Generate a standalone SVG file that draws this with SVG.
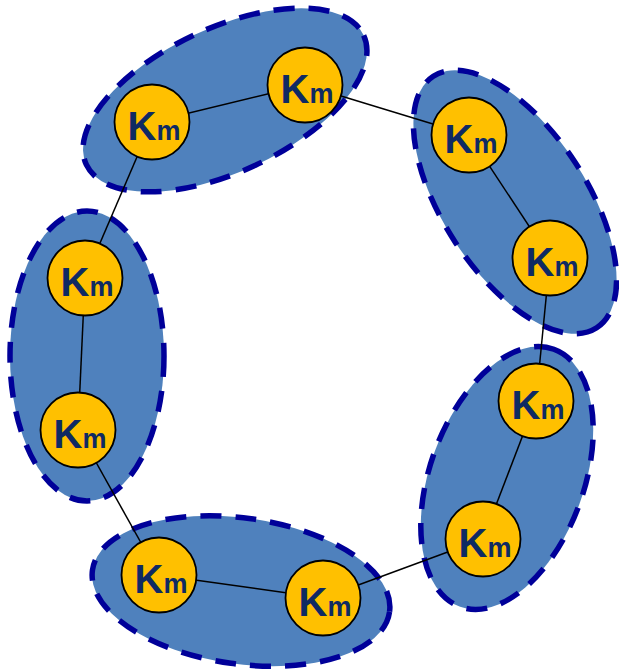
<svg xmlns="http://www.w3.org/2000/svg" width="619" height="671" viewBox="0 0 619 671">
<style>
.grp{fill:#4f81bd;stroke:#000099;stroke-width:5.5;stroke-dasharray:21 14}
.edge{stroke:#000;stroke-width:1.5;fill:none}
.node circle{fill:#ffc000;stroke:#000;stroke-width:1.8}
.node text{font-family:"Liberation Sans",Arial,sans-serif;font-weight:bold;fill:#0f2a63;text-anchor:middle}
.big{font-size:40px}
.sub{font-size:27px}
</style>
<rect width="619" height="671" fill="#fff"/>
<g id="clusters">
<ellipse id="cluster-top" class="grp" cx="225" cy="100" rx="153" ry="72" transform="rotate(-25 225 100)"/>
<ellipse id="cluster-right-top" class="grp" cx="515" cy="202" rx="150" ry="72" transform="rotate(57 515 202)"/>
<ellipse id="cluster-right-bottom" class="grp" cx="507" cy="478" rx="137" ry="77" transform="rotate(-70 507 478)"/>
<ellipse id="cluster-bottom" class="grp" cx="241" cy="591" rx="150" ry="73" transform="rotate(8 241 591)"/>
<ellipse id="cluster-left" class="grp" cx="87" cy="356" rx="77" ry="145"/>
</g>
<g id="connectors">
<line class="edge" x1="152" y1="122" x2="305" y2="85"/>
<line class="edge" x1="305" y1="85" x2="469" y2="135"/>
<line class="edge" x1="469" y1="135" x2="550" y2="258"/>
<line class="edge" x1="550" y1="258" x2="536" y2="401"/>
<line class="edge" x1="536" y1="401" x2="483" y2="539"/>
<line class="edge" x1="483" y1="539" x2="323" y2="598"/>
<line class="edge" x1="323" y1="598" x2="159" y2="575"/>
<line class="edge" x1="159" y1="575" x2="78" y2="430"/>
<line class="edge" x1="78" y1="430" x2="85" y2="278"/>
<line class="edge" x1="85" y1="278" x2="152" y2="122"/>
</g>
<g id="n1" class="node"><circle cx="152" cy="122" r="37.5"/><text x="154" y="140"><tspan class="big">K</tspan><tspan class="sub">m</tspan></text></g>
<g id="n2" class="node"><circle cx="305" cy="85" r="37.5"/><text x="307" y="103"><tspan class="big">K</tspan><tspan class="sub">m</tspan></text></g>
<g id="n3" class="node"><circle cx="469" cy="135" r="37.5"/><text x="471" y="153"><tspan class="big">K</tspan><tspan class="sub">m</tspan></text></g>
<g id="n4" class="node"><circle cx="550" cy="258" r="37.5"/><text x="552" y="276"><tspan class="big">K</tspan><tspan class="sub">m</tspan></text></g>
<g id="n5" class="node"><circle cx="536" cy="401" r="37.5"/><text x="538" y="419"><tspan class="big">K</tspan><tspan class="sub">m</tspan></text></g>
<g id="n6" class="node"><circle cx="483" cy="539" r="37.5"/><text x="485" y="557"><tspan class="big">K</tspan><tspan class="sub">m</tspan></text></g>
<g id="n7" class="node"><circle cx="323" cy="598" r="37.5"/><text x="325" y="616"><tspan class="big">K</tspan><tspan class="sub">m</tspan></text></g>
<g id="n8" class="node"><circle cx="159" cy="575" r="37.5"/><text x="161" y="593"><tspan class="big">K</tspan><tspan class="sub">m</tspan></text></g>
<g id="n9" class="node"><circle cx="78" cy="430" r="37.5"/><text x="80" y="448"><tspan class="big">K</tspan><tspan class="sub">m</tspan></text></g>
<g id="n10" class="node"><circle cx="85" cy="278" r="37.5"/><text x="87" y="296"><tspan class="big">K</tspan><tspan class="sub">m</tspan></text></g>
</svg>
